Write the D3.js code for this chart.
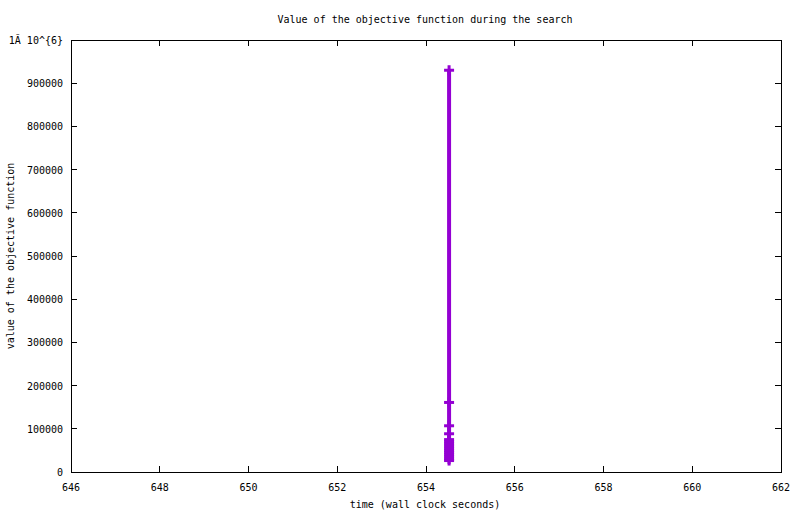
<!DOCTYPE html>
<html><head><meta charset="utf-8">
<script src="https://cdn.jsdelivr.net/npm/d3@7"></script>
<style>body{margin:0;background:#fff}svg{display:block}text{font-family:"DejaVu Sans Mono",monospace;font-size:10px;fill:#000}</style>
</head><body>
<script>
const titleText = "Value of the objective function during the search";
const xLabel = "time (wall clock seconds)";
const yLabel = "value of the objective function";
const xTicks = [646, 648, 650, 652, 654, 656, 658, 660, 662];
const yTicks = [0, 100000, 200000, 300000, 400000, 500000, 600000, 700000, 800000, 900000];
const yTopLabel = "1Ă 10^{6}";
const times = [654.52, 654.52, 654.52, 654.52, 654.52, 654.52, 654.52, 654.52, 654.52, 654.52, 654.52, 654.52, 654.52, 654.52, 654.52];
const values = [930000, 161000, 107000, 88500, 75000, 70000, 65000, 60000, 55000, 50000, 45000, 40000, 35000, 30000, 26500];

const W = 800, H = 514;
const m = {l: 71, r: 781, t: 40, b: 472};
const svg = d3.select("body").append("svg").attr("width", W).attr("height", H);
const x = d3.scaleLinear().domain([646, 662]).range([m.l, m.r]);
const y = d3.scaleLinear().domain([0, 1000000]).range([m.b, m.t]);

// ticks (mirrored, inward)
const tl = 6;
const g = svg.append("g").attr("stroke", "#000").attr("stroke-width", 1).attr("shape-rendering", "crispEdges");
xTicks.forEach(v => {
  g.append("line").attr("x1", x(v)).attr("x2", x(v)).attr("y1", m.b).attr("y2", m.b - tl);
  g.append("line").attr("x1", x(v)).attr("x2", x(v)).attr("y1", m.t).attr("y2", m.t + tl);
});
yTicks.concat([1000000]).forEach(v => {
  g.append("line").attr("x1", m.l).attr("x2", m.l + tl).attr("y1", y(v)).attr("y2", y(v));
  g.append("line").attr("x1", m.r).attr("x2", m.r - tl).attr("y1", y(v)).attr("y2", y(v));
});
g.append("rect").attr("x", m.l).attr("y", m.t).attr("width", m.r - m.l).attr("height", m.b - m.t).attr("fill", "none");

// tick labels
svg.selectAll(".xl").data(xTicks).enter().append("text")
  .attr("x", d => x(d)).attr("y", m.b + 19).attr("text-anchor", "middle").text(d => d);
svg.selectAll(".yl").data(yTicks).enter().append("text")
  .attr("x", m.l - 8).attr("y", d => y(d) + 4).attr("text-anchor", "end").text(d => d);
svg.append("text").attr("x", m.l - 8).attr("y", y(1000000) + 4).attr("text-anchor", "end").text(yTopLabel);

// labels
svg.append("text").attr("x", 425).attr("y", 23).attr("text-anchor", "middle").text(titleText);
svg.append("text").attr("x", 425).attr("y", 508).attr("text-anchor", "middle").text(xLabel);
svg.append("text").attr("transform", `translate(14,${(m.t + m.b) / 2}) rotate(-90)`).attr("text-anchor", "middle").text(yLabel);

// data
const pts = times.map((t, i) => [t, values[i]]);
const color = "#9400D3";
svg.append("path").datum(pts)
  .attr("d", d3.line().x(d => x(d[0])).y(d => y(d[1])))
  .attr("fill", "none").attr("stroke", color).attr("stroke-width", 4);
const pg = svg.append("g").attr("stroke", color).attr("stroke-width", 3);
pts.forEach(d => {
  const cx = x(d[0]), cy = y(d[1]);
  pg.append("line").attr("x1", cx - 5).attr("x2", cx + 5).attr("y1", cy).attr("y2", cy);
  pg.append("line").attr("x1", cx).attr("x2", cx).attr("y1", cy - 5).attr("y2", cy + 5);
});
</script>
</body></html>
